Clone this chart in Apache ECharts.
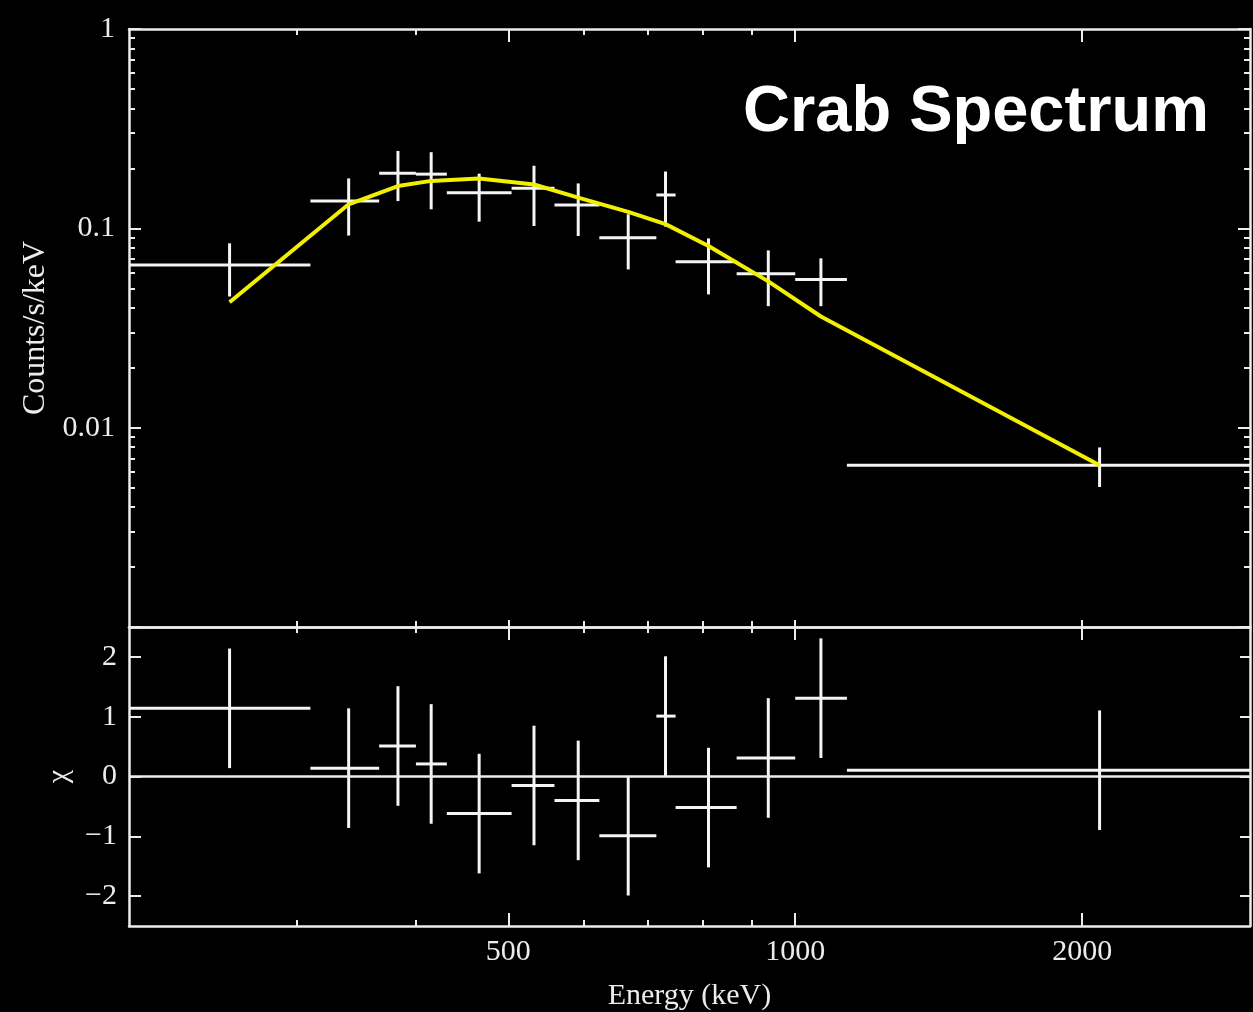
<!DOCTYPE html>
<html lang="en">
<head>
<meta charset="UTF-8">
<title>Crab Spectrum</title>
<script src="https://cdn.jsdelivr.net/npm/echarts@6/dist/echarts.min.js"></script>
<style>
  html, body { margin: 0; padding: 0; background: #000; }
  #main { width: 1253px; height: 1012px; }
</style>
</head>
<body>
<div id="main"></div>
<script>
// energy bins (keV): centre and edges
var energy = [255, 340, 383, 415, 466, 532, 592, 668, 731, 811, 937, 1064, 2086];
var binLo  = [200, 310, 366, 400, 431, 504, 559, 623, 715, 749, 868, 1000, 1133];
var binHi  = [310, 366, 400, 431, 504, 559, 623, 715, 749, 868, 1000, 1133, 3000];

// counts/s/keV with error range
var counts   = [0.0654, 0.137, 0.189, 0.187, 0.151, 0.159, 0.131, 0.0898, 0.147, 0.068, 0.0592, 0.0554, 0.00647];
var countsLo = [0.0455, 0.092, 0.137, 0.1246, 0.108, 0.1027, 0.0915, 0.0622, 0.102, 0.0466, 0.0407, 0.0407, 0.00504];
var countsHi = [0.0841, 0.178, 0.2445, 0.241, 0.188, 0.206, 0.168, 0.1176, 0.1927, 0.089, 0.0775, 0.0707, 0.00796];

// fitted model (yellow)
var model = [0.0426, 0.132, 0.163, 0.173, 0.178, 0.166, 0.1426, 0.121, 0.105, 0.0815, 0.0542, 0.0361, 0.00647];

// residuals in sigma
var chi    = [1.14, 0.14, 0.51, 0.21, -0.62, -0.15, -0.40, -0.99, 1.01, -0.52, 0.31, 1.31, 0.105];
var chiErr = [1, 1, 1, 1, 1, 1, 1, 1, 1, 1, 1, 1, 1];

// ticks
var xMajor = [500, 1000, 2000];
var xMinor = [300, 400, 600, 700, 800, 900];
var yMajor = [0.001, 0.01, 0.1, 1];
var yLabels = [0.01, 0.1, 1];
var yMinor = [0.002, 0.003, 0.004, 0.005, 0.006, 0.007, 0.008, 0.009,
              0.02, 0.03, 0.04, 0.05, 0.06, 0.07, 0.08, 0.09,
              0.2, 0.3, 0.4, 0.5, 0.6, 0.7, 0.8, 0.9];
var chiTicks = [-2, -1, 0, 1, 2];

var fg = '#ececec';
var serif = '"Liberation Serif", "Times New Roman", serif';

function tickStyle(ticks, len) {
    return { show: true, inside: true, length: len, customValues: ticks, lineStyle: { color: fg, width: 2 } };
}

function xAx(grid, pos, ticks, len, withLine) {
    return {
        type: 'log', logBase: 10, gridIndex: grid, position: pos, min: 200, max: 3000,
        axisLine: { show: withLine, onZero: false, lineStyle: { color: fg, width: 2.5 } },
        axisTick: tickStyle(ticks, len),
        axisLabel: { show: false },
        splitLine: { show: false }
    };
}

function yLog(pos, ticks, len, withLine) {
    return {
        type: 'log', logBase: 10, gridIndex: 0, position: pos, min: 0.001, max: 1,
        axisLine: { show: withLine, onZero: false, lineStyle: { color: fg, width: 2.5 } },
        axisTick: tickStyle(ticks, len),
        axisLabel: { show: false },
        splitLine: { show: false }
    };
}

function yChi(pos, len) {
    return {
        type: 'value', gridIndex: 1, position: pos, min: -2.5, max: 2.5,
        axisLine: { show: true, onZero: false, lineStyle: { color: fg, width: 2.5 } },
        axisTick: tickStyle(chiTicks, len),
        axisLabel: { show: false },
        splitLine: { show: false }
    };
}

var xAxes = [
    xAx(0, 'bottom', xMajor, 7, true),
    xAx(0, 'top', xMajor, 13, true),
    xAx(0, 'bottom', xMinor, 6, false),
    xAx(0, 'top', xMinor, 6, false),
    xAx(1, 'bottom', xMajor, 13, true),
    xAx(1, 'top', xMajor, 13, true),
    xAx(1, 'bottom', xMinor, 6, false),
    xAx(1, 'top', xMinor, 6, false)
];
xAxes[4].axisLabel = {
    show: true, customValues: xMajor, margin: 11, color: fg, fontSize: 30, fontFamily: serif,
    formatter: function (v) { return String(v); }
};
xAxes[4].name = 'Energy (keV)';
xAxes[4].nameLocation = 'middle';
xAxes[4].nameGap = 55;
xAxes[4].nameTextStyle = { color: fg, fontSize: 30, fontFamily: serif };

var yAxes = [
    yLog('left', yMajor, 12, true),
    yLog('right', yMajor, 12, true),
    yLog('left', yMinor, 6, false),
    yLog('right', yMinor, 6, false),
    yChi('left', 12),
    yChi('right', 10)
];
yAxes[0].axisLabel = {
    show: true, customValues: yLabels, margin: 14, color: fg, fontSize: 30, fontFamily: serif,
    padding: [0, 0, 8, 0],
    formatter: function (v) { return String(v); }
};
yAxes[0].name = 'Counts/s/keV';
yAxes[0].nameLocation = 'middle';
yAxes[0].nameGap = 77;
yAxes[0].nameTextStyle = { color: fg, fontSize: 32, fontFamily: serif };
yAxes[4].axisLabel = {
    show: true, customValues: chiTicks, margin: 12, color: fg, fontSize: 30, fontFamily: serif,
    formatter: function (v) { return v < 0 ? '\u2212' + (-v) : String(v); }
};
yAxes[4].name = 'χ';
yAxes[4].nameLocation = 'middle';
yAxes[4].nameGap = 52;
yAxes[4].nameTextStyle = { color: fg, fontSize: 30, fontFamily: serif };

function crossItem(params, api) {
    var x = api.value(0), y = api.value(1);
    var a = api.coord([api.value(2), y]);
    var b = api.coord([api.value(3), y]);
    var c = api.coord([x, api.value(4)]);
    var d = api.coord([x, api.value(5)]);
    var st = { stroke: '#f4f4f4', lineWidth: 3 };
    return {
        type: 'group',
        children: [
            { type: 'line', shape: { x1: a[0], y1: a[1], x2: b[0], y2: b[1] }, style: st },
            { type: 'line', shape: { x1: c[0], y1: c[1], x2: d[0], y2: d[1] }, style: st }
        ]
    };
}

var countRows = energy.map(function (e, i) {
    return [e, counts[i], binLo[i], binHi[i], countsLo[i], countsHi[i]];
});
var chiRows = energy.map(function (e, i) {
    return [e, chi[i], binLo[i], binHi[i], chi[i] - chiErr[i], chi[i] + chiErr[i]];
});
var modelRows = energy.map(function (e, i) { return [e, model[i]]; });

var myChart = echarts.init(document.getElementById('main'));
myChart.setOption({
    backgroundColor: '#000',
    animation: false,
    grid: [
        { left: 129, right: 3, top: 29, height: 598, outerBoundsMode: 'none' },
        { left: 129, right: 3, top: 627, height: 299, outerBoundsMode: 'none' }
    ],
    xAxis: xAxes,
    yAxis: yAxes,
    graphic: [{
        type: 'text', x: 743, y: 113,
        style: {
            text: 'Crab Spectrum', fill: '#fff', verticalAlign: 'middle', align: 'left',
            font: 'bold 65px "Liberation Sans", Arial, sans-serif'
        }
    }],
    series: [
        {
            name: 'data', type: 'custom', xAxisIndex: 0, yAxisIndex: 0,
            renderItem: crossItem, data: countRows, z: 2
        },
        {
            name: 'model', type: 'line', xAxisIndex: 0, yAxisIndex: 0,
            data: modelRows, showSymbol: false, z: 3,
            lineStyle: { color: '#f2ef00', width: 4 }
        },
        {
            name: 'residuals', type: 'custom', xAxisIndex: 4, yAxisIndex: 4,
            renderItem: crossItem, data: chiRows, z: 2,
            markLine: {
                silent: true, symbol: 'none', label: { show: false },
                lineStyle: { color: fg, width: 2.5, type: 'solid' },
                data: [{ yAxis: 0 }]
            }
        }
    ]
});
</script>
</body>
</html>
